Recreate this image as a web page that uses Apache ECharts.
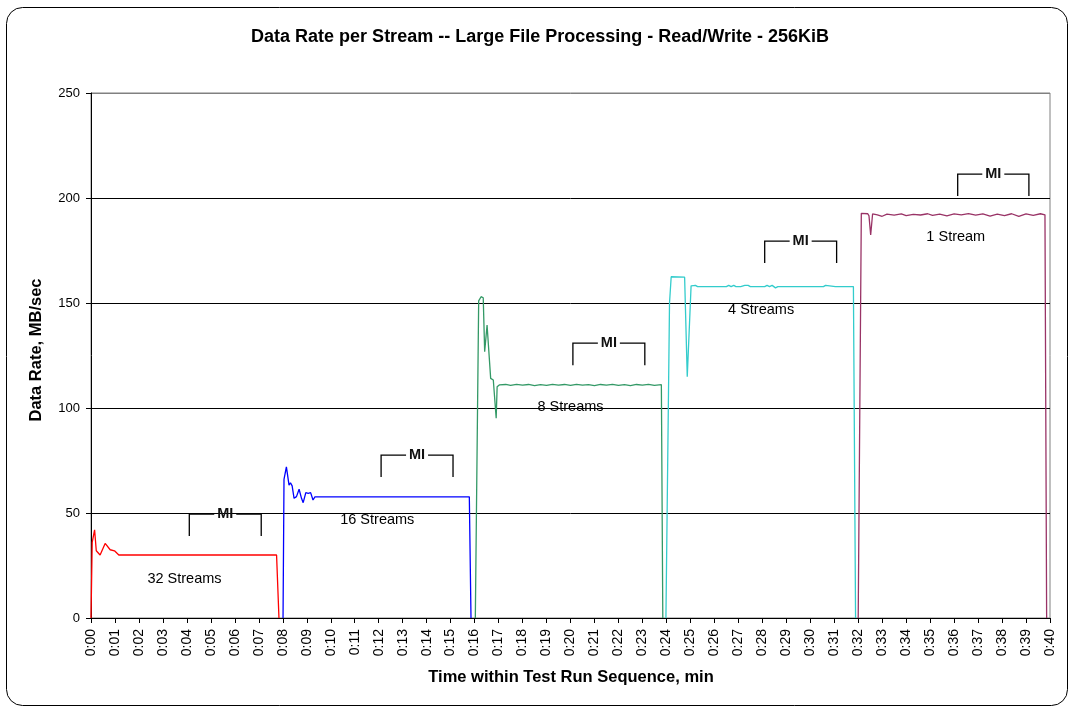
<!DOCTYPE html>
<html>
<head>
<meta charset="utf-8">
<script src="https://cdn.jsdelivr.net/npm/echarts@6/dist/echarts.min.js"></script>
<style>
  html, body { margin: 0; padding: 0; background: #fff; }
  #chart { width: 1071px; height: 709px; }
</style>
</head>
<body>
<div id="chart"></div>
<script>
// Time within the run (minutes) and data rate (MB/sec) for each stream count
const streams32 = [[0,0],[0.05,36],[0.15,42],[0.22,32],[0.38,30],[0.59,35.5],[0.8,32.5],[0.98,32],[1.16,30],[7.74,30],[7.84,0]];
const streams16 = [[8.01,0],[8.05,66],[8.15,72],[8.26,63.3],[8.32,64.4],[8.39,62.9],[8.47,57],[8.57,57.8],[8.68,61.3],[8.78,57],[8.85,54.9],[8.96,59.7],[9.06,59.4],[9.16,59.7],[9.26,56.2],[9.34,57.7],[10.1,57.7],[10.17,57.1],[10.25,57.7],[10.88,57.7],[10.94,58.3],[11.0,57.7],[12.05,57.7],[12.12,57.1],[12.2,57.7],[13.38,57.7],[13.44,57.1],[13.5,57.7],[13.82,57.7],[13.86,58.3],[13.92,57.7],[14.9,57.7],[14.97,57.1],[15.05,57.7],[15.78,57.7],[15.85,0]];
const streams8 = [[16.03,0],[16.17,151],[16.27,153],[16.34,153.3],[16.36,152.5],[16.42,126.8],[16.52,139.5],[16.57,139.5],[16.67,114.1],[16.73,114.9],[16.78,113.3],[16.9,95.1],[16.94,110.1],[17.03,111],[17.3,111.2],[17.5,110.8],[17.75,111.3],[18.0,110.9],[18.25,111.2],[18.5,110.7],[18.75,111.1],[19.0,110.8],[19.25,111.3],[19.5,110.9],[19.75,111.2],[20.0,110.8],[20.25,111.3],[20.5,110.9],[20.75,111.1],[21.0,110.7],[21.25,111.2],[21.5,110.9],[21.75,111.3],[22.0,110.8],[22.25,111.1],[22.5,110.7],[22.75,111.2],[23.0,110.9],[23.25,111.3],[23.5,110.8],[23.79,111.1],[23.85,0]];
const streams4 = [[23.98,0],[24.13,150],[24.2,162.5],[24.76,162.3],[24.82,161.7],[24.87,114.9],[25.03,158.2],[25.1,157.8],[25.21,158.4],[25.3,157.8],[26.5,157.8],[26.6,158.4],[26.7,157.8],[26.81,158.4],[26.9,157.8],[26.98,158.4],[27.1,157.8],[27.27,158.4],[27.35,157.8],[27.41,158.4],[27.5,157.8],[28.1,157.8],[28.2,158.4],[28.3,157.8],[28.41,158.4],[28.55,157.2],[28.65,157.8],[29.4,157.8],[29.46,158.4],[29.55,157.8],[29.8,157.8],[29.87,158.4],[29.95,157.8],[30.55,157.8],[30.64,158.4],[30.72,157.8],[31.05,157.8],[31.13,158.4],[31.2,157.8],[31.8,157.8],[31.89,0]];
const streams1 = [[32.0,0],[32.13,192.7],[32.4,192.5],[32.45,191.5],[32.52,182.4],[32.6,192.4],[32.8,192],[33.0,191.3],[33.2,192.3],[33.5,191.8],[33.8,192.4],[34.0,191.6],[34.3,192.2],[34.6,191.9],[34.9,192.5],[35.1,191.7],[35.4,192.3],[35.7,191.5],[36.0,192.4],[36.3,192.0],[36.6,192.6],[36.9,191.8],[37.2,192.4],[37.5,191.4],[37.8,192.3],[38.1,191.6],[38.4,192.5],[38.7,191.2],[39.0,192.4],[39.3,191.7],[39.6,192.5],[39.79,192.0],[39.86,0]];

// Measurement interval brackets: start, end (min) and bracket level (MB/sec)
const miStart = [4.1, 12.1, 20.1, 28.1, 36.15];
const miEnd = [7.1, 15.1, 23.1, 31.1, 39.12];
const miLevel = [49.5, 77.6, 130.9, 179.5, 211.4];
const miDrop = 10.5;

// Stream-count labels and their anchor points
const streamLabels = ['32 Streams', '16 Streams', '8 Streams', '4 Streams', '1 Stream'];
const labelTime = [3.9, 11.94, 20.0, 27.95, 36.07];
const labelRate = [18.6, 46.7, 100.6, 146.7, 181.3];

const yTicks = [0, 50, 100, 150, 200, 250];

const FONT = "'Liberation Sans', Arial, sans-serif";

const chart = echarts.init(document.getElementById('chart'), null, { renderer: 'canvas' });

function lineSeries(name, data, color) {
  return {
    name, type: 'line', data, showSymbol: false, symbol: 'none',
    lineStyle: { color, width: 1.3 }, z: 3, silent: true
  };
}

const bracketData = miStart.map((s, i) => [s, miEnd[i], miLevel[i]]);
const labelData = streamLabels.map((t, i) => [labelTime[i], labelRate[i], t]);

chart.setOption({
  animation: false,
  backgroundColor: '#fff',
  grid: {
    left: 91, right: 21, top: 93, bottom: 91,
    show: true, borderColor: '#808080', borderWidth: 1, backgroundColor: 'transparent'
  },
  xAxis: {
    type: 'value', min: 0, max: 40, interval: 1,
    axisLine: { show: true, onZero: false, lineStyle: { color: '#000', width: 1 } },
    axisTick: { show: true, length: 5, inside: false, lineStyle: { color: '#000' } },
    splitLine: { show: false },
    axisLabel: {
      rotate: 90, margin: 11, color: '#000', fontSize: 14, fontFamily: FONT,
      formatter: v => '0:' + String(Math.round(v)).padStart(2, '0')
    }
  },
  yAxis: {
    type: 'value', min: 0, max: 250, interval: 50,
    axisLine: { show: true, lineStyle: { color: '#000', width: 1 } },
    axisTick: { show: true, length: 5, inside: false, lineStyle: { color: '#000' } },
    splitLine: { show: true, lineStyle: { color: ['#000', '#000', '#000', '#000', '#000', '#808080'], width: 1 } },
    axisLabel: {
      margin: 11, color: '#000', fontSize: 13, fontFamily: FONT,
      formatter: v => (yTicks.indexOf(v) >= 0 ? String(v) : '')
    }
  },
  graphic: [
    {
      type: 'rect', shape: { x: 6.5, y: 7.5, width: 1061, height: 698, r: 16 },
      style: { fill: 'none', stroke: '#000', lineWidth: 1 }, z: 100, silent: true
    },
    {
      type: 'text', x: 540, y: 37,
      style: {
        text: 'Data Rate per Stream -- Large File Processing - Read/Write - 256KiB',
        font: 'bold 18px ' + FONT, fill: '#000', align: 'center', verticalAlign: 'middle'
      }
    },
    {
      type: 'text', x: 36, y: 350, rotation: Math.PI / 2,
      style: {
        text: 'Data Rate, MB/sec', font: 'bold 16.5px ' + FONT, fill: '#000',
        align: 'center', verticalAlign: 'middle'
      }
    },
    {
      type: 'text', x: 571, y: 677,
      style: {
        text: 'Time within Test Run Sequence, min', font: 'bold 16.5px ' + FONT, fill: '#000',
        align: 'center', verticalAlign: 'middle'
      }
    }
  ],
  series: [
    lineSeries('32 Streams', streams32, '#FF0000'),
    lineSeries('16 Streams', streams16, '#0000FF'),
    lineSeries('8 Streams', streams8, '#339966'),
    lineSeries('4 Streams', streams4, '#33CCCC'),
    lineSeries('1 Stream', streams1, '#993366'),
    {
      // MI brackets with a centred label in a gap
      type: 'custom', data: bracketData, z: 5, silent: true,
      renderItem: (params, api) => {
        const s = api.value(0), e = api.value(1), lv = api.value(2);
        const a = api.coord([s, lv]);
        const b = api.coord([e, lv]);
        const aDown = api.coord([s, lv - miDrop]);
        const bDown = api.coord([e, lv - miDrop]);
        const mid = (a[0] + b[0]) / 2;
        const gap = 11;
        const ls = { stroke: '#000', lineWidth: 1.3, fill: 'none' };
        return {
          type: 'group',
          children: [
            { type: 'polyline', shape: { points: [aDown, a, [mid - gap, a[1]]] }, style: ls },
            { type: 'polyline', shape: { points: [[mid + gap, b[1]], b, bDown] }, style: ls },
            {
              type: 'text', x: mid, y: a[1],
              style: { text: 'MI', font: 'bold 14.5px ' + FONT, fill: '#111', align: 'center', verticalAlign: 'middle' }
            }
          ]
        };
      }
    },
    {
      type: 'custom', data: labelData, z: 6, silent: true,
      dimensions: ['t', 'v', 'label'],
      renderItem: (params, api) => {
        const p = api.coord([api.value(0), api.value(1)]);
        return {
          type: 'text', x: p[0], y: p[1],
          style: {
            text: labelData[params.dataIndex][2], font: '14.5px ' + FONT, fill: '#000',
            align: 'center', verticalAlign: 'middle'
          }
        };
      }
    }
  ]
});
</script>
</body>
</html>
